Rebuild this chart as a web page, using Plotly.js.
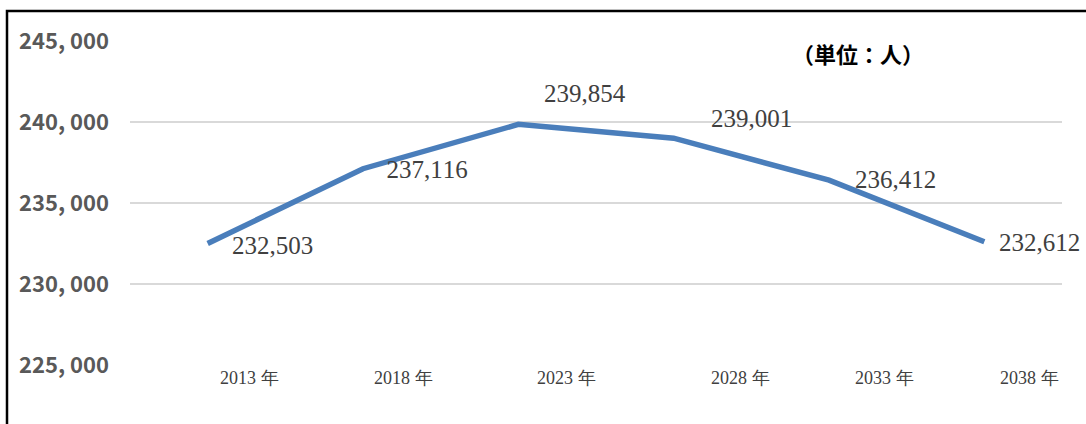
<!DOCTYPE html>
<html>
<head>
<meta charset="utf-8">
<script src="https://cdn.plot.ly/plotly-3.0.1.min.js"></script>
<style>
  html, body { margin: 0; padding: 0; background: #ffffff; }
  #chart { width: 1086px; height: 424px; }
  #chart text { text-spacing-trim: space-all; font-kerning: none; }
</style>
</head>
<body>
<div id="chart"></div>
<script>
// ---- data ----
const years = ["2013 年", "2018 年", "2023 年", "2028 年", "2033 年", "2038 年"];
const population = [232503, 237116, 239854, 239001, 236412, 232612];
const valueLabels = ["232,503", "237,116", "239,854", "239,001", "236,412", "232,612"];
const yTickVals = [225000, 230000, 235000, 240000, 245000];
const yTickText = ["225, 000", "230, 000", "235, 000", "240, 000", "245, 000"];
const unitText = "（単位：人）";

// ---- label placement (pixel offsets, style only) ----
const valueLabelShift = [[22, -2], [22, -1], [24, 31], [35, 20], [24, 1], [13, -1]];
const yearLabelShift = [0.27, 0.26, 0.31, 0.43, 0.36, 0.29];

const idx = years.map((_, i) => i);

const trace = {
  x: idx,
  y: population,
  type: "scatter",
  mode: "lines",
  line: { color: "#4a7ebb", width: 5.5 },
  hoverinfo: "skip",
  showlegend: false
};

const cjk = "'Noto Sans CJK JP', 'Noto Sans', sans-serif";
const serif = "'Liberation Serif', serif";

const annotations = [];
population.forEach((v, i) => {
  annotations.push({
    x: i, y: v, xref: "x", yref: "y",
    text: valueLabels[i],
    showarrow: false,
    xanchor: "left", yanchor: "middle",
    xshift: valueLabelShift[i][0], yshift: valueLabelShift[i][1],
    font: { family: serif, size: 25, color: "#404040" }
  });
});
years.forEach((t, i) => {
  annotations.push({
    x: i + yearLabelShift[i], y: 0, xref: "x", yref: "paper",
    text: t,
    showarrow: false,
    xanchor: "center", yanchor: "middle",
    yshift: -13,
    font: { family: serif, size: 18, color: "#404040" }
  });
});
annotations.push({
  x: (858 - 130) / 932, y: (365 - 53) / 324, xref: "paper", yref: "paper",
  text: unitText, showarrow: false,
  xanchor: "center", yanchor: "middle",
  font: { family: cjk, size: 22, color: "#000000", weight: "bold" }
});

const layout = {
  width: 1086,
  height: 424,
  margin: { l: 130, r: 24, t: 41, b: 59, pad: 0 },
  paper_bgcolor: "#ffffff",
  plot_bgcolor: "#ffffff",
  showlegend: false,
  xaxis: {
    range: [-0.5, 5.5],
    showticklabels: false,
    showgrid: false,
    zeroline: false,
    showline: false,
    fixedrange: true
  },
  yaxis: {
    range: [225000, 245000],
    tickvals: yTickVals,
    ticktext: yTickText,
    showgrid: true,
    gridcolor: "#d9d9d9",
    gridwidth: 1.5,
    zeroline: false,
    showline: false,
    ticks: "",
    ticklabelstandoff: 20,
    tickfont: { family: cjk, size: 22, color: "#595959", weight: 600 },
    fixedrange: true
  },
  shapes: [{
    type: "rect", xref: "paper", yref: "paper",
    x0: (7 - 130) / 932, x1: 1.3,
    y0: -0.6, y1: (365 - 11) / 324,
    line: { color: "#000000", width: 2.5 },
    fillcolor: "rgba(0,0,0,0)",
    layer: "below"
  }],
  annotations: annotations
};

Plotly.newPlot("chart", [trace], layout, { displayModeBar: false, staticPlot: true });
</script>
</body>
</html>
